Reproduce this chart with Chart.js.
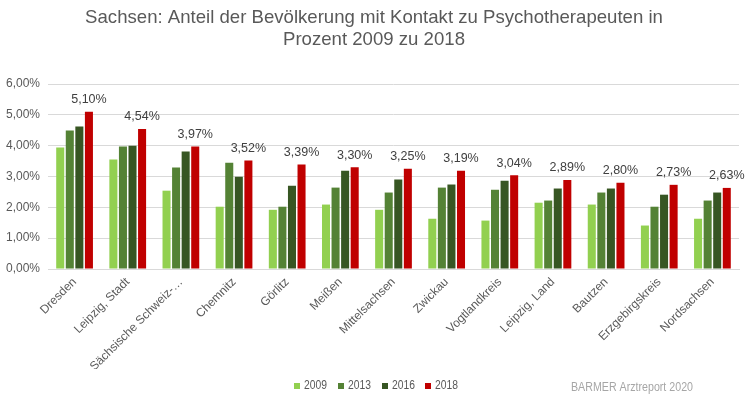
<!DOCTYPE html>
<html><head><meta charset="utf-8">
<script src="https://cdn.jsdelivr.net/npm/chart.js@4/dist/chart.umd.min.js"></script>
<style>html,body{margin:0;padding:0;background:#fff}#wrap{width:749px;height:399px}</style>
</head><body><div id="wrap"><canvas id="c" width="749" height="399"></canvas></div>
<script>
const categories = ["Dresden","Leipzig, Stadt","Sächsische Schweiz-…","Chemnitz","Görlitz","Meißen","Mittelsachsen","Zwickau","Vogtlandkreis","Leipzig, Land","Bautzen","Erzgebirgskreis","Nordsachsen"];
const values2009 = [3.94,3.55,2.54,2.02,1.92,2.09,1.92,1.63,1.57,2.15,2.09,1.41,1.63];
const values2013 = [4.49,3.97,3.29,3.45,2.02,2.64,2.48,2.64,2.57,2.22,2.48,2.02,2.22];
const values2016 = [4.62,4.00,3.81,2.99,2.70,3.19,2.90,2.74,2.86,2.61,2.61,2.41,2.48];
const values2018 = [5.10,4.54,3.97,3.52,3.39,3.30,3.25,3.19,3.04,2.89,2.80,2.73,2.63];
const seriesLabels = ["2009","2013","2016","2018"];
const yTicks = [0,1,2,3,4,5,6];
const titleLines = ["Sachsen: Anteil der Bevölkerung mit Kontakt zu Psychotherapeuten in","Prozent 2009 zu 2018"];
const sourceText = "BARMER Arztreport 2020";
const colors = ["#92D050","#548235","#375623","#C00000"];

const fmt = v => v.toFixed(2).replace('.', ',') + '%';
const FONT = "'Liberation Sans', Arial, sans-serif";

function narrowText(ctx, text, x, y, scale) {
  ctx.save();
  ctx.translate(x, y);
  ctx.scale(scale, 1);
  ctx.fillText(text, 0, 0);
  ctx.restore();
}

const extras = {
  id: 'extras',
  afterDraw(chart) {
    const ctx = chart.ctx;
    ctx.save();
    ctx.fillStyle = '#595959';
    ctx.font = "18.6px " + FONT;
    ctx.textAlign = 'center';
    ctx.textBaseline = 'middle';
    ctx.fillText(titleLines[0], 374, 18);
    ctx.fillText(titleLines[1], 374, 40);
    const meta = chart.getDatasetMeta(3);
    ctx.font = "12.5px " + FONT;
    ctx.fillStyle = '#404040';
    meta.data.forEach((bar, i) => {
      ctx.fillText(fmt(chart.data.datasets[3].data[i]), bar.x, bar.y - 12);
    });
    const legendX = [294, 338, 382, 425];
    ctx.textAlign = 'left';
    ctx.font = "12px " + FONT;
    chart.data.datasets.forEach((ds, i) => {
      ctx.fillStyle = ds.backgroundColor;
      ctx.fillRect(legendX[i], 383, 6, 6);
      ctx.fillStyle = '#595959';
      narrowText(ctx, ds.label, legendX[i] + 10, 386, 0.86);
    });
    ctx.fillStyle = '#A6A6A6';
    const w = ctx.measureText(sourceText).width;
    narrowText(ctx, sourceText, 571, 388, 122 / w);
    ctx.restore();
  }
};

new Chart(document.getElementById('c'), {
  type: 'bar',
  data: {
    labels: categories,
    datasets: [values2009, values2013, values2016, values2018].map((d, i) => ({
      label: seriesLabels[i], data: d, backgroundColor: colors[i],
      categoryPercentage: 0.72, barPercentage: 0.84
    }))
  },
  options: {
    responsive: false, animation: false,
    layout: { padding: { top: 84, bottom: 30, left: 0, right: 10 } },
    plugins: { legend: { display: false }, title: { display: false }, tooltip: { enabled: false } },
    scales: {
      x: {
        grid: { display: false, drawTicks: false },
        border: { display: true, color: '#D9D9D9' },
        ticks: { color: '#595959', font: { size: 12, family: FONT }, minRotation: 45, maxRotation: 45, autoSkip: false, padding: 6 },
        afterFit(s) { s.height = 100; }
      },
      y: {
        min: 0, max: 6,
        grid: { color: '#D9D9D9', drawTicks: false },
        border: { display: false },
        afterBuildTicks(s) { s.ticks = yTicks.map(v => ({ value: v })); },
        ticks: { color: '#595959', font: { size: 12, family: FONT }, padding: 8, callback: v => fmt(v) },
        afterFit(s) { s.width = 48; }
      }
    }
  },
  plugins: [extras]
});
</script></body></html>
